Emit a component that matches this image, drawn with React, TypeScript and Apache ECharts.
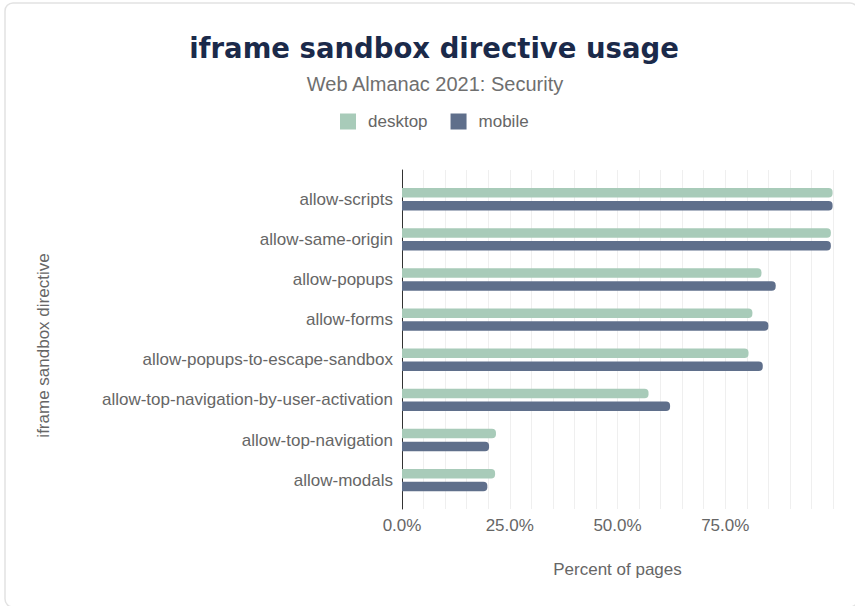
import React, { useEffect, useRef } from "react";
import * as echarts from "echarts";

const categories = [
  "allow-scripts",
  "allow-same-origin",
  "allow-popups",
  "allow-forms",
  "allow-popups-to-escape-sandbox",
  "allow-top-navigation-by-user-activation",
  "allow-top-navigation",
  "allow-modals",
];
const desktopValues = [99.9, 99.5, 83.4, 81.3, 80.4, 57.2, 21.8, 21.6];
const mobileValues = [99.9, 99.5, 86.7, 85.0, 83.7, 62.2, 20.2, 19.8];
const seriesNames = ["desktop", "mobile"];
const titleText = "iframe sandbox directive usage";
const subtitleText = "Web Almanac 2021: Security";
const xAxisTitle = "Percent of pages";
const yAxisTitle = "iframe sandbox directive";
const labelledTicks = [0, 25, 50, 75];

const FONT = "'Liberation Sans', Arial, Helvetica, sans-serif";
const TITLE_FONT = "'DejaVu Sans', 'Liberation Sans', sans-serif";
const GRAY = "#666666";

export default function App() {
  const ref = useRef<HTMLDivElement>(null);
  useEffect(() => {
    if (!ref.current) return;
    const chart = echarts.init(ref.current, null, { renderer: "svg" });
    const gridLeft = 402;
    const gridWidth = 431;
    chart.setOption({
      animation: false,
      backgroundColor: "#ffffff",
      textStyle: { fontFamily: FONT },
      graphic: [
        {
          type: "rect",
          shape: { x: 5, y: 3, width: 853, height: 604, r: 8 },
          style: { fill: "none", stroke: "#e2e2e2", lineWidth: 1.5 },
          silent: true,
          z: -10,
        },
      ],
      title: [
        {
          text: titleText,
          left: 429,
          top: 29,
          textAlign: "center",
          textStyle: {
            fontFamily: TITLE_FONT,
            fontSize: 27.5,
            fontWeight: "bold",
            color: "#1b2a4a",
          },
        },
        {
          text: subtitleText,
          left: 430,
          top: 69,
          textAlign: "center",
          textStyle: {
            fontFamily: FONT,
            fontSize: 20,
            fontWeight: "normal",
            color: "#6f6f6f",
          },
        },
      ],
      legend: {
        data: seriesNames,
        left: 340,
        top: 113,
        padding: 0,
        icon: "rect",
        itemWidth: 16,
        itemHeight: 16,
        itemGap: 23,
        textStyle: {
          fontFamily: FONT,
          fontSize: 17,
          color: GRAY,
          padding: [0, 0, 0, 7],
        },
      },
      grid: [
        { left: gridLeft, width: gridWidth, top: 170, height: 339 },
        { left: gridLeft, width: gridWidth, top: 179.2, height: 321 },
      ],
      xAxis: [
        {
          gridIndex: 0,
          type: "value",
          min: 0,
          max: 100,
          interval: 5,
          axisLine: { show: false },
          axisTick: { show: false },
          splitLine: { show: true, lineStyle: { color: "#efefef", width: 1 } },
          axisLabel: {
            margin: 8,
            fontFamily: FONT,
            fontSize: 17,
            color: GRAY,
            formatter: (v: number) =>
              labelledTicks.indexOf(v) >= 0 ? v.toFixed(1) + "%" : "",
          },
          name: xAxisTitle,
          nameLocation: "middle",
          nameGap: 52,
          nameTextStyle: { fontFamily: FONT, fontSize: 17, color: GRAY },
        },
        {
          gridIndex: 1,
          type: "value",
          min: 0,
          max: 100,
          show: false,
        },
      ],
      yAxis: [
        {
          gridIndex: 0,
          type: "value",
          min: 0,
          max: 1,
          axisLine: { show: true, lineStyle: { color: "#333333", width: 1 } },
          axisTick: { show: false },
          axisLabel: { show: false },
          splitLine: { show: false },
          name: yAxisTitle,
          nameLocation: "middle",
          nameGap: 350,
          nameTextStyle: {
            fontFamily: FONT,
            fontSize: 17,
            color: GRAY,
            padding: [0, 12, 0, 0],
          },
        },
        {
          gridIndex: 1,
          type: "category",
          data: categories,
          inverse: true,
          axisLine: { show: false },
          axisTick: { show: false },
          axisLabel: {
            margin: 9,
            fontFamily: FONT,
            fontSize: 17,
            color: GRAY,
          },
        },
      ],
      series: [
        {
          name: seriesNames[0],
          type: "bar",
          xAxisIndex: 1,
          yAxisIndex: 1,
          data: desktopValues,
          barWidth: 9.5,
          barGap: "35%",
          itemStyle: { color: "#a8cbb9", borderRadius: [0, 4, 4, 0] },
        },
        {
          name: seriesNames[1],
          type: "bar",
          xAxisIndex: 1,
          yAxisIndex: 1,
          data: mobileValues,
          barWidth: 9.5,
          barGap: "35%",
          itemStyle: { color: "#5f6f8b", borderRadius: [0, 4, 4, 0] },
        },
      ],
    });
    return () => chart.dispose();
  }, []);
  return (
    <div
      ref={ref}
      style={{ position: "fixed", left: 0, top: 0, width: 855, height: 606 }}
    />
  );
}
